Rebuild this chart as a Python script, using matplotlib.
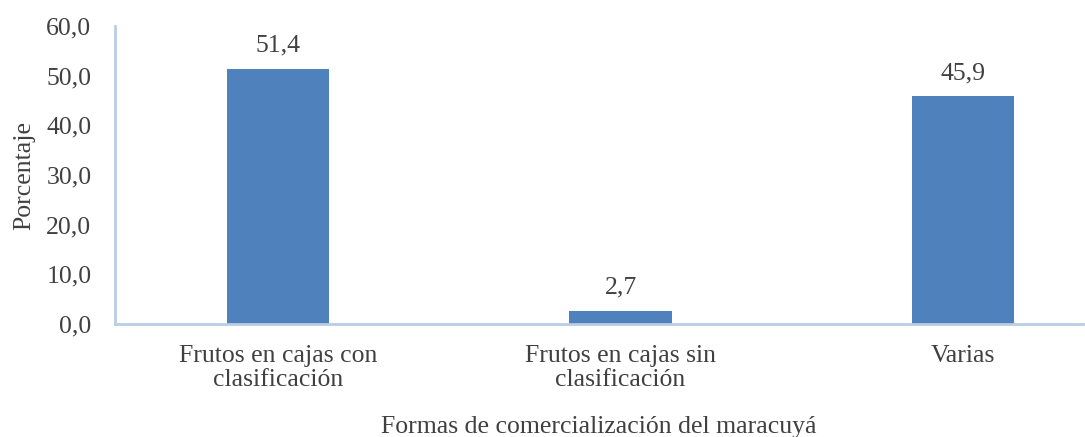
import matplotlib.pyplot as plt

categorias = ["Frutos en cajas con\nclasificación", "Frutos en cajas sin\nclasificación", "Varias"]
porcentajes = [51.4, 2.7, 45.9]
yticks = [0, 10, 20, 30, 40, 50, 60]

plt.rcParams['font.family'] = ['Liberation Serif', 'DejaVu Serif']
texto = '#404040'
fs = 18.5

fig = plt.figure(figsize=(10.85, 4.37), dpi=100)
ax = fig.add_axes([115 / 1085, 1 - 324 / 437, (1083 - 115) / 1085, (324 - 26) / 437])

x = list(range(len(categorias)))
bars = ax.bar(x, porcentajes, width=0.30, color='#4F81BD', zorder=2)
for b, v in zip(bars, porcentajes):
    ax.text(b.get_x() + b.get_width() / 2, v + 2.4, f"{v:.1f}".replace('.', ','),
            ha='center', va='bottom', fontsize=fs, color=texto)

ax.set_xlim(-0.476, 2.35)
ax.set_ylim(0, 60)
ax.set_yticks(yticks)
ax.set_yticklabels([f"{t:.1f}".replace('.', ',') for t in yticks])
ax.set_xticks(x)
ax.set_xticklabels(categorias, linespacing=1.15)
ax.tick_params(axis='both', length=0, labelsize=fs, colors=texto)
ax.tick_params(axis='x', pad=15)
ax.tick_params(axis='y', pad=17)

for s in ['top', 'right']:
    ax.spines[s].set_visible(False)
ax.spines['left'].set_color('#B9CDE5')
ax.spines['left'].set_linewidth(2)
ax.spines['bottom'].set_color('#B9CDE5')
ax.spines['bottom'].set_linewidth(2)

ax.set_ylabel("Porcentaje", fontsize=fs, color=texto, labelpad=8)
ax.set_xlabel("Formas de comercialización del maracuyá", fontsize=fs, color=texto, labelpad=18)

fig.savefig("out.png", dpi=100)
